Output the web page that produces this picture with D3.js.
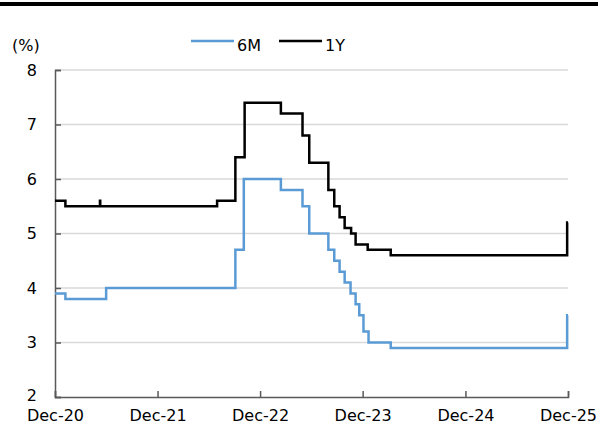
<!DOCTYPE html>
<html><head><meta charset="utf-8">
<script src="https://cdn.jsdelivr.net/npm/d3@7"></script>
<style>body{margin:0;background:#fff;}svg{display:block;font-family:"DejaVu Sans",sans-serif;}</style>
</head><body>
<svg id="c" width="598" height="435"></svg>
<script>
// Step-change points (date, value)
const dates6M = ["2020-12-01","2021-01-07","2021-06-01","2022-09-04","2022-10-04","2023-02-13","2023-05-01","2023-05-25","2023-08-01","2023-08-22","2023-09-10","2023-09-28","2023-10-19","2023-11-06","2023-11-19","2023-12-04","2023-12-22","2024-03-10","2025-11-28","2025-12-01"];
const values6M = [3.9,3.8,4.0,4.7,6.0,5.8,5.5,5.0,4.7,4.5,4.3,4.1,3.9,3.7,3.5,3.2,3.0,2.9,3.5,3.5];
const dates1Y = ["2020-12-01","2021-01-07","2021-05-10","2021-05-11","2022-07-01","2022-09-04","2022-10-07","2023-02-13","2023-05-01","2023-05-25","2023-08-01","2023-08-22","2023-09-10","2023-09-28","2023-10-21","2023-11-06","2023-12-19","2024-03-10","2025-11-28","2025-12-01"];
const values1Y = [5.6,5.5,5.6,5.5,5.6,6.4,7.4,7.2,6.8,6.3,5.8,5.5,5.3,5.1,5.0,4.8,4.7,4.6,5.2,5.2];
const xTickDates = ["2020-12-01","2021-12-01","2022-12-01","2023-12-01","2024-12-01","2025-12-01"];
const xTickLabels = ["Dec-20","Dec-21","Dec-22","Dec-23","Dec-24","Dec-25"];
const yTicks = [2,3,4,5,6,7,8];
const seriesNames = ["6M","1Y"];
const seriesColors = ["#5B9BD5","#000000"];

const parse = d3.timeParse("%Y-%m-%d");
const svg = d3.select("#c");
const L = 55, R = 568, T = 70, B = 397;
const x = d3.scaleTime().domain([parse(xTickDates[0]), parse(xTickDates[xTickDates.length-1])]).range([L, R]);
const y = d3.scaleLinear().domain([2, 8]).range([B, T]);

// top rule
svg.append("rect").attr("x",0).attr("y",2).attr("width",598).attr("height",4).attr("fill","#000");

// gridlines
svg.append("g").selectAll("line").data(yTicks.filter(d=>d>2)).join("line")
  .attr("x1",L).attr("x2",R).attr("y1",d=>y(d)).attr("y2",d=>y(d))
  .attr("stroke","#d9d9d9").attr("stroke-width",1.5);

// y axis
const ya = svg.append("g").attr("transform",`translate(${L},0)`)
  .call(d3.axisLeft(y).tickValues(yTicks).tickSize(-6).tickPadding(18).tickFormat(d3.format("d")));
ya.select(".domain").attr("stroke","#595959").attr("stroke-width",1.5);
ya.selectAll(".tick line").attr("stroke","#595959").attr("stroke-width",1.5);
ya.selectAll("text").attr("font-size",16).attr("fill","#000").attr("font-family","DejaVu Sans");
ya.selectAll(".tick").filter(d=>d===2).select("text").attr("dy","0.2em");

// x axis
const xa = svg.append("g").attr("transform",`translate(0,${B})`)
  .call(d3.axisBottom(x).tickValues(xTickDates.map(parse)).tickSize(-6).tickPadding(13)
    .tickFormat((d,i)=>xTickLabels[i]));
xa.select(".domain").attr("stroke","#595959").attr("stroke-width",1.5);
xa.selectAll(".tick line").attr("stroke","#595959").attr("stroke-width",1.5);
xa.selectAll("text").attr("font-size",16).attr("fill","#000").attr("font-family","DejaVu Sans");

// lines
const line = d3.line().x(d=>x(d[0])).y(d=>y(d[1])).curve(d3.curveStepAfter);
const data6M = dates6M.map((d,i)=>[parse(d), values6M[i]]);
const data1Y = dates1Y.map((d,i)=>[parse(d), values1Y[i]]);
[data6M, data1Y].forEach((s,i)=>{
  svg.append("path").datum(s).attr("d",line).attr("fill","none")
    .attr("stroke",seriesColors[i]).attr("stroke-width",2.5);
});

// unit label
svg.append("text").attr("x",12).attr("y",51).attr("font-size",16).text("(%)");

// legend
const legX = [191, 279];
seriesNames.forEach((n,i)=>{
  svg.append("line").attr("x1",legX[i]).attr("x2",legX[i]+43).attr("y1",41).attr("y2",41)
    .attr("stroke",seriesColors[i]).attr("stroke-width",2.5);
  svg.append("text").attr("x",legX[i]+46).attr("y",51).attr("font-size",16).text(n);
});
</script>
</body></html>
